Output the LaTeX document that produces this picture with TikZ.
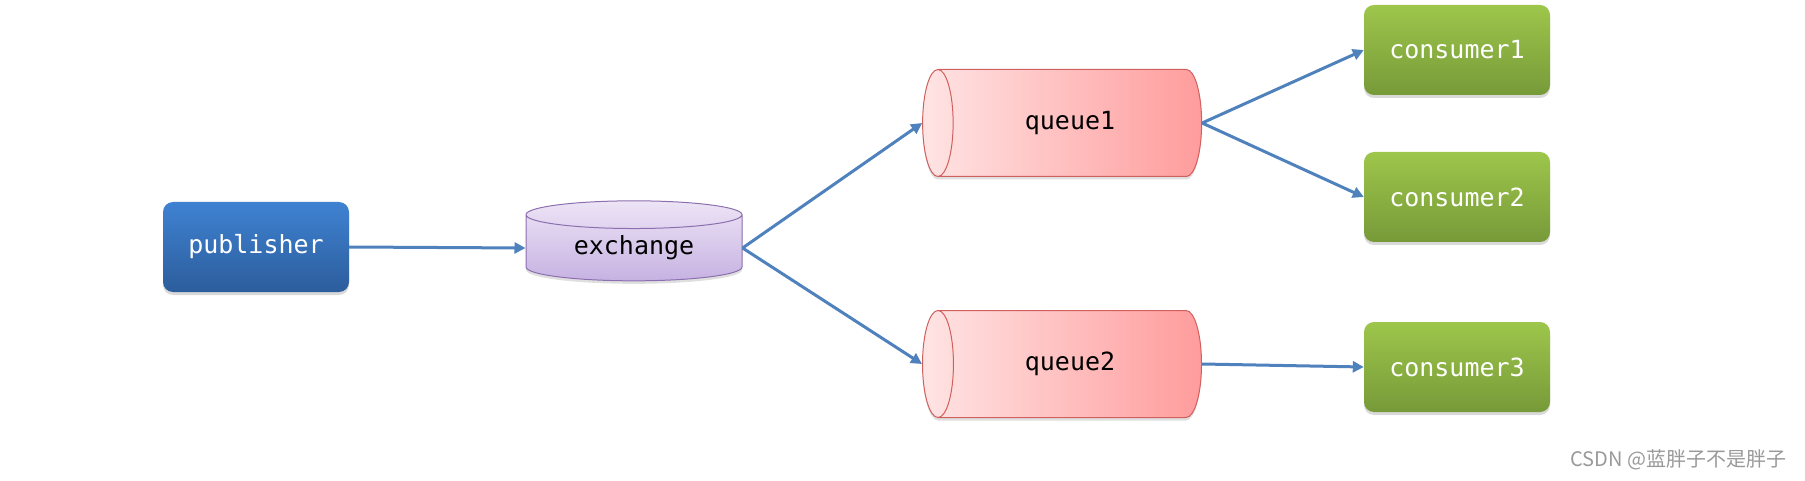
\documentclass[tikz,border=0pt]{standalone}
\usepackage{fontspec}
\setmonofont{DejaVu Sans Mono}
\newfontfamily\cjk{Noto Sans CJK SC}
\usetikzlibrary{shapes.geometric,shadows,arrows.meta}
\definecolor{pubtop}{HTML}{3F82D2}
\definecolor{pubbot}{HTML}{2C5D9C}
\definecolor{contop}{HTML}{9DC64B}
\definecolor{conbot}{HTML}{779A39}
\definecolor{qleft}{HTML}{FFE4E4}
\definecolor{qright}{HTML}{FF9C9C}
\definecolor{qline}{HTML}{D0605E}
\definecolor{extop}{HTML}{EDE4F6}
\definecolor{exbot}{HTML}{C7B2E2}
\definecolor{exline}{HTML}{8C6FAE}
\definecolor{linkblue}{HTML}{4F81BD}
\tikzset{
  box_/.style   = {shape=rectangle, rounded corners=10pt, minimum width=186pt,
                   minimum height=90pt, text=white,
                   drop shadow={shadow xshift=0pt, shadow yshift=-3pt, opacity=0.3}},
  pub_/.style   = {box_, top color=pubtop, bottom color=pubbot},
  con_/.style   = {box_, top color=contop, bottom color=conbot},
  queue_/.style = {shape=cylinder, shape border rotate=180, aspect=1.3, draw=qline,
                   line width=1pt, left color=qleft, right color=qright,
                   minimum width=107pt, minimum height=279pt, inner sep=0pt,
                   drop shadow={shadow xshift=0pt, shadow yshift=-3pt, opacity=0.25}},
  exch_/.style  = {shape=cylinder, shape border rotate=90, aspect=0.23, draw=exline,
                   line width=1pt, top color=extop, bottom color=exbot,
                   minimum width=216pt, minimum height=80pt, inner sep=0pt,
                   drop shadow={shadow xshift=0pt, shadow yshift=-3pt, opacity=0.25}},
  link_/.style  = {draw=linkblue, line width=3pt,
                   -{Triangle[length=11pt, width=11pt]}}
}

\begin{document}
\begin{tikzpicture}
  [
    x = 1pt, y = 1pt,
    every node/.style = {font=\ttfamily\fontsize{25}{30}\selectfont}
  ]
  \useasboundingbox (0,0) rectangle (1805,480);
  \node [pub_]   (publisher) at (256,233)  {publisher};
  \node [exch_]  (exchange)  at (634,232)  {exchange};
  \node [queue_] (queue1)    at (1070,357) {queue1};
  \node [queue_] (queue2)    at (1070,116) {queue2};
  \node [con_]   (consumer1) at (1457,430) {consumer1};
  \node [con_]   (consumer2) at (1457,283) {consumer2};
  \node [con_]   (consumer3) at (1457,113) {consumer3};

  \draw [link_] (publisher.east) -- (exchange.west);
  \draw [link_] (exchange.east) -- (queue1.west);
  \draw [link_] (exchange.east) -- (queue2.west);
  \draw [link_] (queue1.east) -- (consumer1.west);
  \draw [link_] (queue1.east) -- (consumer2.west);
  \draw [link_] (queue2.east) -- (consumer3.west);

  \node [anchor=east, text=black!40, font=\cjk\fontsize{20}{24}\selectfont]
    (mark) at (1790,20) {CSDN @蓝胖子不是胖子};
\end{tikzpicture}
\end{document}
